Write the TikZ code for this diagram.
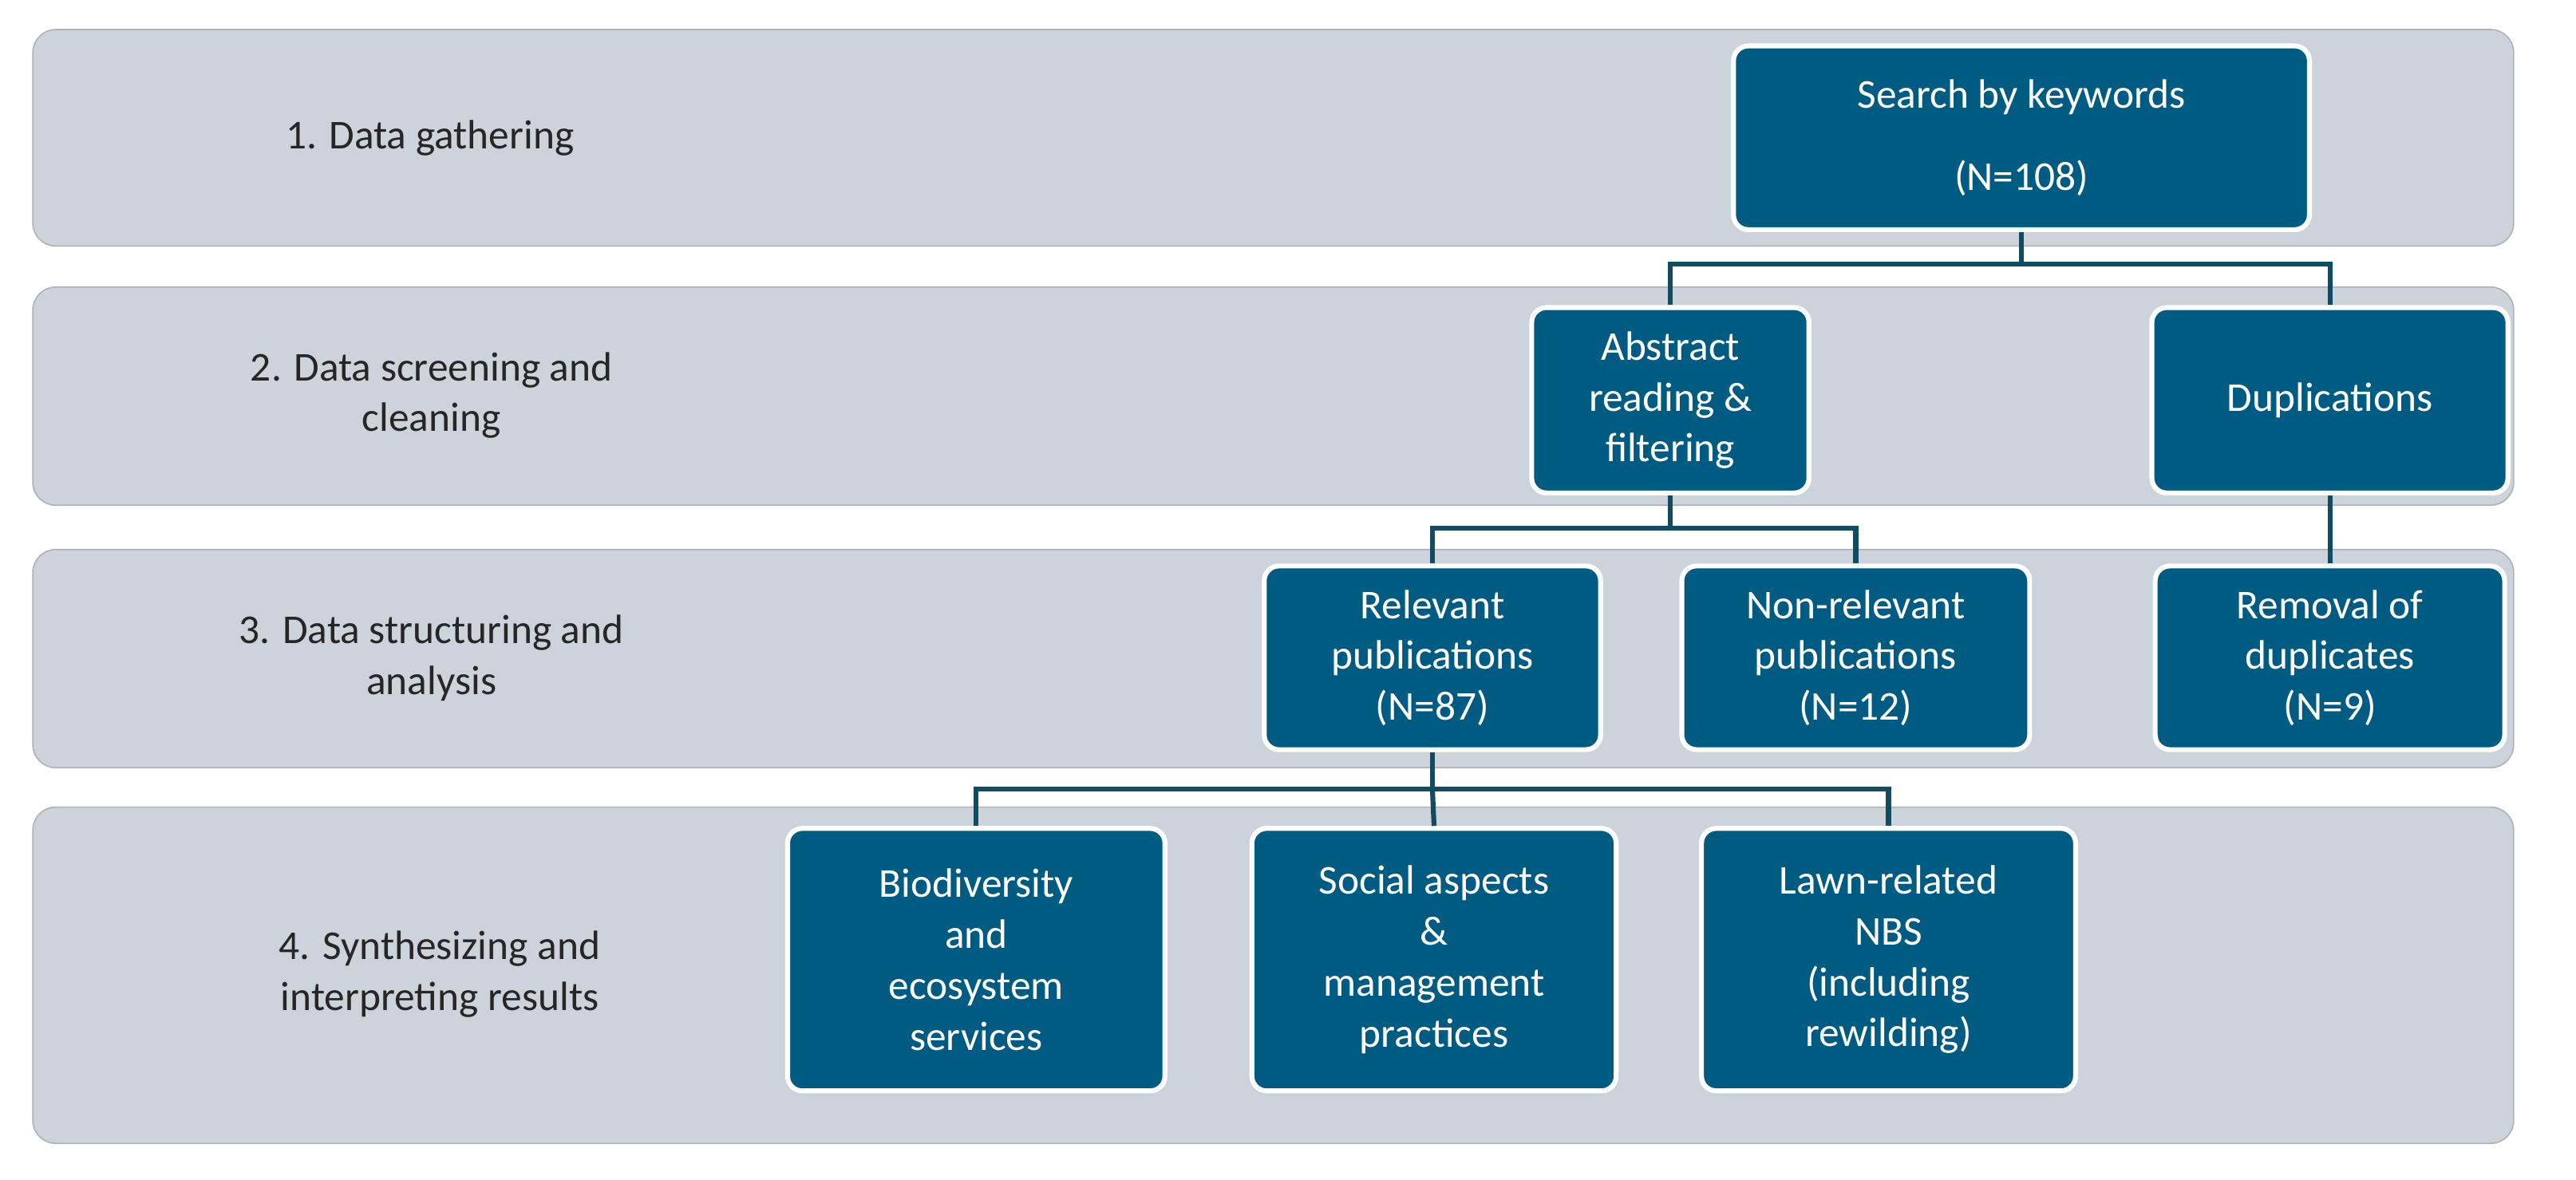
\documentclass[tikz,border=0pt]{standalone}
\usepackage{fontspec}
\setmainfont{Carlito}
\begin{document}
\begin{tikzpicture}[x=1pt,y=-1pt,
  band/.style={fill=bandc,rounded corners=14pt,draw=bandc!85!black,line width=0.8pt},
  box/.style={fill=boxc,draw=white,line width=3pt,rounded corners=9pt,text=white,align=center,
    font=\fontsize{25}{31}\selectfont,inner sep=0pt},
  lbl/.style={align=center,font=\fontsize{25}{31}\selectfont,text=black!85},
  con/.style={draw=linec,line width=3pt}]
\definecolor{bandc}{HTML}{CDD3DA}
\definecolor{boxc}{HTML}{005B82}
\definecolor{linec}{HTML}{134B63}
\useasboundingbox (0,0) rectangle (1570,719.3);
\path[band] (20,18) rectangle (1532,150);
\path[band] (20,175) rectangle (1532,308);
\path[band] (20,335) rectangle (1532,468);
\path[band] (20,492) rectangle (1532,697);
\node[lbl] (l1) at (262,84) {1. Data gathering};
\node[lbl] (l2) at (263,241) {2. Data screening and\\cleaning};
\node[lbl] (l3) at (263,401) {3. Data structuring and\\analysis};
\node[lbl] (l4) at (268,594) {4. Synthesizing and\\interpreting results};
\node[box,minimum width=351pt,minimum height=112pt,font=\fontsize{25}{50}\selectfont] (s) at (1232,84) {Search by keywords\\(N=108)};
\node[box,minimum width=169pt,minimum height=113pt] (a) at (1018,244) {Abstract\\reading \&\\filtering};
\node[box,minimum width=217pt,minimum height=113pt] (d) at (1420,244) {Duplications};
\node[box,minimum width=205pt,minimum height=112pt] (r) at (873,401) {Relevant\\publications\\(N=87)};
\node[box,minimum width=212pt,minimum height=112pt] (n) at (1131,401) {Non-relevant\\publications\\(N=12)};
\node[box,minimum width=213pt,minimum height=112pt] (m) at (1420,401) {Removal of\\duplicates\\(N=9)};
\node[box,minimum width=230pt,minimum height=160pt] (b) at (595,585) {Biodiversity\\and\\ecosystem\\services};
\node[box,minimum width=222pt,minimum height=160pt] (c) at (874,585) {Social aspects\\\&\\management\\practices};
\node[box,minimum width=228pt,minimum height=160pt] (w) at (1151,585) {Lawn-related\\NBS\\(including\\rewilding)};
\coordinate (j1) at (1232,161);
\coordinate (j2) at (1018,322);
\coordinate (j3) at (873,481);
\draw[con] (s.south) -- (j1);
\draw[con] (a.north) |- (j1) -| (d.north);
\draw[con] (a.south) -- (j2);
\draw[con] (r.north) |- (j2) -| (n.north);
\draw[con] (d.south) -- (m.north);
\draw[con] (r.south) -- (j3);
\draw[con] (b.north) |- (j3) -| (w.north);
\draw[con] (j3) -- (c.north);
\end{tikzpicture}
\end{document}
